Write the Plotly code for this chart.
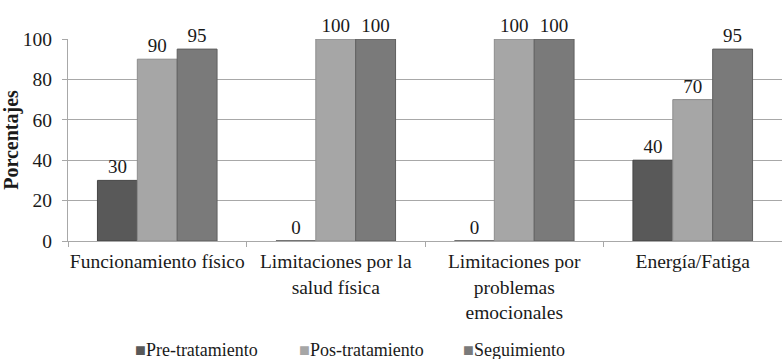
import plotly.graph_objects as go

categories = [
    "Funcionamiento físico",
    "Limitaciones por la<br>salud física",
    "Limitaciones por<br>problemas<br>emocionales",
    "Energía/Fatiga",
]
pre_tratamiento = [30, 0, 0, 40]
pos_tratamiento = [90, 100, 100, 70]
seguimiento = [95, 100, 100, 95]

series = [
    ("Pre-tratamiento", pre_tratamiento, "#595959", "#454545"),
    ("Pos-tratamiento", pos_tratamiento, "#a6a6a6", "#8c8c8c"),
    ("Seguimiento", seguimiento, "#7a7a7a", "#5f5f5f"),
]

FONT = "Liberation Serif"
INK = "#1a1a1a"
GRID = "#a8a8a8"

fig = go.Figure()
for name, vals, fill, edge in series:
    fig.add_trace(go.Bar(
        name=name,
        x=categories,
        y=vals,
        text=[str(v) for v in vals],
        textposition="outside",
        textfont=dict(family=FONT, size=19, color=INK),
        cliponaxis=False,
        showlegend=False,
        marker=dict(color=fill, line=dict(color=edge, width=1)),
    ))

# legend entries: small square glyph hugging the label
for name, vals, fill, edge in series:
    fig.add_trace(go.Scatter(
        x=[None], y=[None],
        mode="markers",
        marker=dict(color="rgba(0,0,0,0)", size=1, line=dict(width=0)),
        name=f'<span style="color:{fill}">■</span>{name}',
        showlegend=True,
    ))

fig.update_layout(
    template="none",
    width=782,
    height=359,
    margin=dict(l=68, r=0, t=39, b=118),
    paper_bgcolor="white",
    plot_bgcolor="white",
    barmode="group",
    bargap=0.33,
    bargroupgap=0,
    font=dict(family=FONT, size=19, color=INK),
    legend=dict(
        orientation="h",
        xref="container", yref="container",
        x=0.1215, xanchor="left",
        y=0.028, yanchor="middle",
        font=dict(family=FONT, size=18, color=INK),
        itemwidth=30,
        entrywidth=119,
        bgcolor="rgba(0,0,0,0)",
    ),
    showlegend=True,
)

fig.update_yaxes(
    range=[0, 100],
    tickvals=[0, 20, 40, 60, 80, 100],
    tickfont=dict(family=FONT, size=19.5, color=INK),
    showgrid=True,
    gridcolor=GRID,
    gridwidth=1,
    zeroline=False,
    showline=True,
    linecolor=GRID,
    ticks="outside",
    ticklen=5,
    tickcolor=GRID,
    ticklabelstandoff=6,
    title=dict(text="<b>Porcentajes</b>", font=dict(family=FONT, size=20, color=INK), standoff=0),
)

fig.update_xaxes(
    showline=True,
    linecolor=GRID,
    showgrid=False,
    tickson="boundaries",
    ticks="outside",
    ticklen=5,
    tickcolor=GRID,
    tickangle=0,
    ticklabelstandoff=3,
    tickfont=dict(family=FONT, size=19.5, color=INK),
)

fig.write_html("out.html")
